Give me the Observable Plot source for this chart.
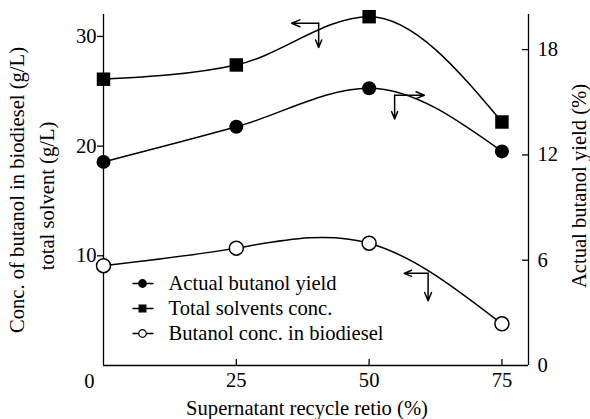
<!DOCTYPE html>
<html><head><meta charset="utf-8">
<script src="https://cdn.jsdelivr.net/npm/d3@7"></script>
<script src="https://cdn.jsdelivr.net/npm/@observablehq/plot@0.6"></script>
<style>body{margin:0;background:#fff} #chart svg, #chart svg text{font-family:"Liberation Serif","DejaVu Serif","Times New Roman",serif !important;}</style>
</head><body><div id="chart"></div>
<script>
// ---- data ----
const ratio = [0, 25, 50, 75];                      // Supernatant recycle ratio (%)
const totalSolvents = [26.1, 27.4, 31.8, 22.2];     // g/L (left axis)
const butanolYield = [11.6, 13.6, 15.8, 12.2];      // % (right axis)
const butanolBiodiesel = [9.1, 10.7, 11.15, 3.8];   // g/L (left axis)
const xTicks = [25, 50, 75];
const leftTicks = [10, 20, 30];
const rightTicks = [0, 6, 12, 18];
const seriesNames = ["Actual butanol yield", "Total solvents conc.", "Butanol conc. in biodiesel"];
// annotation arrows: curve point (x, value in own axis units), horizontal arrow end x, vertical arrow end value
const arrowX = [40.5, 54.8, 61.1];
const arrowY = [31.2, 15.4, 8.4];
const arrowAxis = ["left", "right", "left"];
const arrowHx = [35.4, 60.4, 56.6];
const arrowVy = [29.0, 14.05, 5.9];

// ---- layout ----
const W = 590, H = 419;
const mL = 103, mR = 62, mT = 14, mB = 54;
const xDomain = [0, 80], leftDomain = [0, 32], rightDomain = [0, 20];
const k = leftDomain[1] / rightDomain[1]; // right -> left factor
const xs = Plot.scale({x: {domain: xDomain, range: [mL, W - mR]}});
const ys = Plot.scale({y: {domain: leftDomain, range: [H - mB, mT]}});
const toLeft = (v, axis) => axis === "right" ? v * k : v;

const rows = ratio.map((x, i) => ({x, total: totalSolvents[i], yieldL: butanolYield[i] * k, bio: butanolBiodiesel[i]}));

const arrows = [];
arrowX.forEach((x, i) => {
  const y = toLeft(arrowY[i], arrowAxis[i]);
  arrows.push({x1: x, y1: y, x2: arrowHx[i], y2: y});
  arrows.push({x1: x, y1: y, x2: x, y2: toLeft(arrowVy[i], arrowAxis[i])});
});

// legend (pixel layout converted to data units)
const legRowsPx = [283, 308, 333];
const legend = seriesNames.map((name, i) => ({
  name,
  y: ys.invert(legRowsPx[i]),
  xa: xs.invert(132), xb: xs.invert(153), xm: xs.invert(142), xt: xs.invert(168)
}));
const legSym = ["circle", "square", "circle"];
const legFill = ["black", "black", "white"];

const FS = 20.6;
const FF = "Liberation Serif";
const marks = [
  // frame
  Plot.ruleX(xDomain, {stroke: "black", strokeWidth: 1.3}),
  Plot.ruleY([0], {stroke: "black", strokeWidth: 1.3}),
  // axes
  Plot.axisY(leftTicks, {anchor: "left", tickSize: 6, tickPadding: 1, fontSize: FS, fontFamily: FF, label: null, strokeWidth: 1.3}),
  Plot.axisY(rightTicks.map(v => v * k), {anchor: "right", tickSize: 0, tickPadding: 9, fontSize: FS, fontFamily: FF, label: null, tickFormat: d => String(Math.round(d / k))}),
  Plot.ruleY(rightTicks.slice(1).map(v => v * k), {x1: xs.invert(W - mR - 6), x2: xDomain[1], stroke: "black", strokeWidth: 1.3}),
  Plot.axisX(xTicks, {anchor: "bottom", tickSize: 0, tickPadding: 7, fontSize: FS, fontFamily: FF, label: null}),
  Plot.ruleX(xTicks, {y1: 0, y2: ys.invert(H - mB - 6), stroke: "black", strokeWidth: 1.3}),
  Plot.text(["0"], {x: 0, y: 0, dx: -14, dy: 16, fontSize: FS, fontFamily: FF}),
  // axis titles
  Plot.text(["Conc. of butanol in biodiesel (g/L)"], {frameAnchor: "left", textAnchor: "middle", rotate: -90, dx: -86, dy: 0, fontSize: FS, fontFamily: FF}),
  Plot.text(["total solvent (g/L)"], {frameAnchor: "left", textAnchor: "middle", rotate: -90, dx: -56, dy: 6, fontSize: FS, fontFamily: FF}),
  Plot.text(["Actual butanol yield (%)"], {frameAnchor: "right", textAnchor: "middle", rotate: -90, dx: 51, dy: -4, fontSize: FS, fontFamily: FF}),
  Plot.text(["Supernatant recycle retio (%)"], {frameAnchor: "bottom", lineAnchor: "middle", dx: -9, dy: 43, fontSize: FS, fontFamily: FF}),
  // series
  Plot.line(rows, {x: "x", y: "total", curve: "monotone-x", stroke: "black", strokeWidth: 1.5}),
  Plot.line(rows, {x: "x", y: "yieldL", curve: "monotone-x", stroke: "black", strokeWidth: 1.5}),
  Plot.line(rows, {x: "x", y: "bio", curve: "natural", stroke: "black", strokeWidth: 1.5}),
  Plot.dot(rows, {x: "x", y: "total", symbol: "square", r: 7.6, fill: "black"}),
  Plot.dot(rows, {x: "x", y: "yieldL", symbol: "circle", r: 7, fill: "black"}),
  Plot.dot(rows, {x: "x", y: "bio", symbol: "circle", r: 7, fill: "white", stroke: "black", strokeWidth: 1.5}),
  // annotation arrows
  Plot.arrow(arrows, {x1: "x1", y1: "y1", x2: "x2", y2: "y2", stroke: "black", strokeWidth: 1.5, headLength: 9, headAngle: 45, bend: 0}),
  // legend
  Plot.link(legend, {x1: "xa", x2: "xb", y1: "y", y2: "y", stroke: "black", strokeWidth: 1.5}),
  Plot.dot(legend, {x: "xm", y: "y", symbol: (d, i) => legSym[i], fill: (d, i) => legFill[i], stroke: "black", strokeWidth: 1.2, r: 3.8}),
  Plot.text(legend, {x: "xt", y: "y", text: "name", textAnchor: "start", fontSize: FS, fontFamily: FF})
];

const chart = Plot.plot({
  width: W, height: H,
  marginLeft: mL, marginRight: mR, marginTop: mT, marginBottom: mB,
  x: {domain: xDomain, axis: null},
  y: {domain: leftDomain, axis: null},
  symbol: {type: "identity"},
  color: {type: "identity"},
  style: {fontFamily: "'Liberation Serif', serif", fontSize: FS + "px", color: "black", background: "white"},
  marks
});
document.getElementById("chart").appendChild(chart);
</script>
</body></html>
